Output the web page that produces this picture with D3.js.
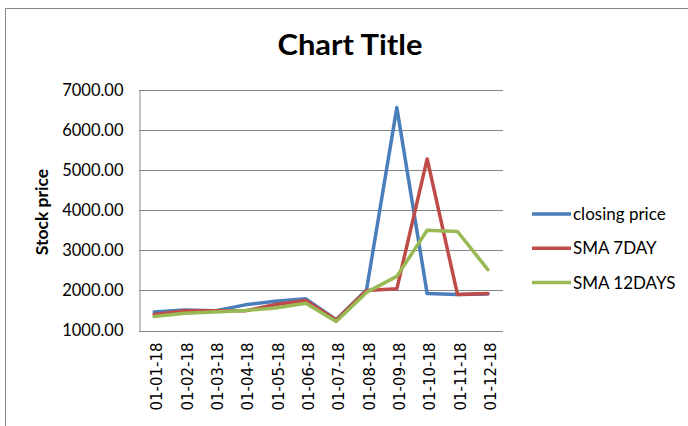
<!DOCTYPE html>
<html><head><meta charset="utf-8">
<script src="https://cdn.jsdelivr.net/npm/d3@7"></script>
<style>body{margin:0;background:#fff}svg{display:block}</style>
</head><body>
<script>
const categories = ["01-01-18","01-02-18","01-03-18","01-04-18","01-05-18","01-06-18","01-07-18","01-08-18","01-09-18","01-10-18","01-11-18","01-12-18"];
const closingPrice = [1460,1510,1490,1640,1730,1790,1270,2010,6560,1920,1900,1910];
const sma7 = [1400,1490,1490,1490,1650,1750,1260,2000,2040,5280,1900,1920];
const sma12 = [1350,1430,1460,1500,1560,1680,1225,1950,2350,3500,3470,2520];
const yTicks = [1000,2000,3000,4000,5000,6000,7000];
const seriesNames = ["closing price","SMA 7DAY","SMA 12DAYS"];
const seriesColors = ["#4a7ebb","#be4b48","#98b954"];

const W=688,H=426;
const svg=d3.select("body").append("svg").attr("width",W).attr("height",H);
svg.append("rect").attr("x",5.5).attr("y",8.5).attr("width",W).attr("height",H).attr("fill","none").attr("stroke","#868686");

const plot={l:139,r:503,t:90,b:330.5};
const x=d3.scaleBand().domain(categories).range([plot.l,plot.r]);
const y=d3.scaleLinear().domain([1000,7000]).range([plot.b,plot.t]);

// gridlines
svg.append("g").selectAll("line").data(yTicks).join("line")
  .attr("x1",plot.l).attr("x2",plot.r)
  .attr("y1",d=>Math.round(y(d))+0.5).attr("y2",d=>Math.round(y(d))+0.5)
  .attr("stroke","#868686").attr("stroke-width",1);

// y axis
const ya=svg.append("g").attr("transform",`translate(${plot.l+0.5},0)`)
  .call(d3.axisLeft(y).tickValues(yTicks).tickFormat(d3.format(".2f")).tickSize(0).tickPadding(16));
ya.select(".domain").attr("stroke","#868686");
ya.selectAll("text").attr("font-family","Lato, sans-serif").attr("font-size",16.5).attr("fill","#000");

// x axis
const xa=svg.append("g").attr("transform",`translate(0,${plot.b})`)
  .call(d3.axisBottom(x).tickSize(0));
xa.select(".domain").remove();
xa.selectAll("text").attr("font-family","'DejaVu Sans', sans-serif").attr("font-size",15).attr("fill","#000")
  .attr("transform","rotate(-90)").attr("text-anchor","end").attr("x",-12).attr("y",0).attr("dy","0.55em");

// lines
const line=d3.line().x((d,i)=>x(categories[i])+x.bandwidth()/2).y(d=>y(d));
[closingPrice,sma7,sma12].forEach((s,i)=>{
  svg.append("path").datum(s).attr("d",line).attr("fill","none")
    .attr("stroke",seriesColors[i]).attr("stroke-width",3.5).attr("stroke-linejoin","round").attr("stroke-linecap","round");
});

// title
svg.append("text").attr("x",350).attr("y",55).attr("text-anchor","middle")
  .attr("font-family","Lato, sans-serif").attr("font-weight","bold").attr("font-size",29)
  .attr("textLength",145).attr("lengthAdjust","spacingAndGlyphs").text("Chart Title");

// y title
svg.append("text").attr("transform","translate(48,212) rotate(-90)").attr("text-anchor","middle")
  .attr("font-family","Lato, sans-serif").attr("font-weight","bold").attr("font-size",17.5).text("Stock price");

// legend
const lg=svg.append("g");
seriesNames.forEach((n,i)=>{
  const yy=214+i*34.3;
  lg.append("line").attr("x1",532).attr("x2",571).attr("y1",yy).attr("y2",yy)
    .attr("stroke",seriesColors[i]).attr("stroke-width",3.5);
  lg.append("text").attr("x",573).attr("y",yy+6).attr("font-family","Lato, sans-serif").attr("font-size",17).text(n);
});
</script>
</body></html>
